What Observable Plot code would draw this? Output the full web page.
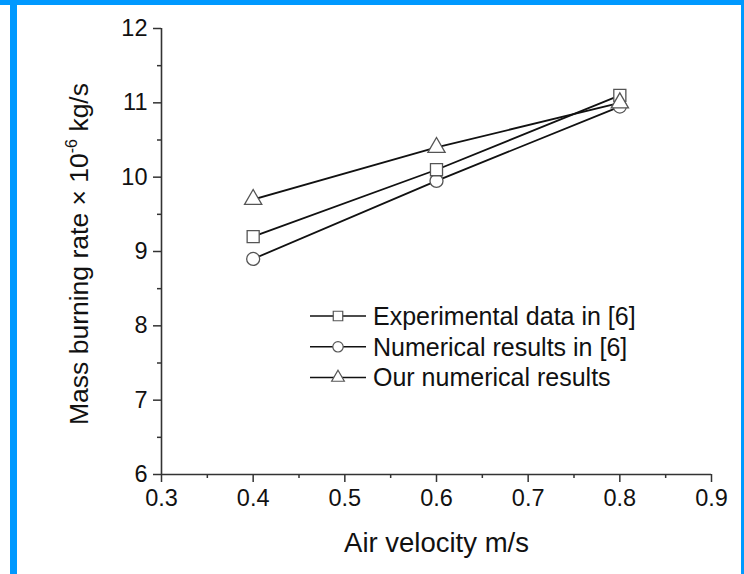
<!DOCTYPE html>
<html><head><meta charset="utf-8">
<script src="https://cdn.jsdelivr.net/npm/d3@7"></script>
<script src="https://cdn.jsdelivr.net/npm/@observablehq/plot@0.6"></script>
<style>
body{margin:0;background:#fff;}
#wrap{position:relative;width:744px;height:574px;overflow:hidden;background:#fff;font-family:"Liberation Sans",Arial,sans-serif;}
#wrap svg{position:absolute;left:0;top:0;}
.band{position:absolute;background:#0099ff;}
</style></head><body>
<div id="wrap"></div>
<script>
// ---- data ----
const velocity = [0.4, 0.6, 0.8];
const experimental = [9.2, 10.1, 11.1];
const numerical = [8.9, 9.95, 10.95];
const ours = [9.7, 10.4, 11.0];
const seriesNames = ["Experimental data in [6]", "Numerical results in [6]", "Our numerical results"];
const xTicks = [0.3, 0.4, 0.5, 0.6, 0.7, 0.8, 0.9];
const xMinor = [0.35, 0.45, 0.55, 0.65, 0.75, 0.85];
const yTicks = [6, 7, 8, 9, 10, 11, 12];
const yMinor = [6.5, 7.5, 8.5, 9.5, 10.5, 11.5];
const xTitle = "Air velocity m/s";

const mk = (vals) => velocity.map((v, i) => ({x: v, y: vals[i]}));
const dExp = mk(experimental), dNum = mk(numerical), dOur = mk(ours);

const font = '"Liberation Sans", Arial, Helvetica, sans-serif';
const axisColor = "#333";
const markerStroke = "#555";
const tickFont = 23.5;

const plot = Plot.plot({
  width: 744, height: 574,
  marginLeft: 161, marginRight: 33, marginTop: 28, marginBottom: 100,
  style: {fontFamily: font, color: "#111", background: "transparent"},
  x: {domain: [0.3, 0.9], axis: null},
  y: {domain: [6, 12], axis: null},
  marks: [
    Plot.axisX(xTicks, {tickSize: 8, tickFormat: () => "", stroke: axisColor, strokeWidth: 1.5, label: null}),
    Plot.axisX(xMinor, {tickSize: 4, tickFormat: () => "", stroke: axisColor, strokeWidth: 1.5, label: null}),
    Plot.axisY(yTicks, {tickSize: 8, tickFormat: () => "", stroke: axisColor, strokeWidth: 1.5, label: null}),
    Plot.axisY(yMinor, {tickSize: 4, tickFormat: () => "", stroke: axisColor, strokeWidth: 1.5, label: null}),
    Plot.text(xTicks, {x: d => d, y: 6, text: d => d3.format(".1f")(d), dy: 24, lineAnchor: "middle",
      fontSize: tickFont, fill: "#111", fontFamily: font}),
    Plot.text(yTicks, {x: 0.3, y: d => d, text: d => String(d), dx: -14, textAnchor: "end",
      fontSize: tickFont, fill: "#111", fontFamily: font}),
    Plot.ruleX([0.3], {y1: 6, y2: 12, stroke: axisColor, strokeWidth: 1.6}),
    Plot.ruleY([6], {x1: 0.3, x2: 0.9, stroke: axisColor, strokeWidth: 1.6}),
    Plot.line(dExp, {x: "x", y: "y", stroke: "#111", strokeWidth: 1.8}),
    Plot.line(dNum, {x: "x", y: "y", stroke: "#111", strokeWidth: 1.8}),
    Plot.line(dOur, {x: "x", y: "y", stroke: "#111", strokeWidth: 1.8}),
    Plot.dot(dNum, {x: "x", y: "y", symbol: "circle", r: 6.5, fill: "white", stroke: markerStroke, strokeWidth: 1.3}),
    Plot.dot(dExp, {x: "x", y: "y", symbol: "square", r: 6.8, fill: "white", stroke: markerStroke, strokeWidth: 1.3}),
    Plot.dot(dOur, {x: "x", y: "y", symbol: "triangle", r: 6.4, fill: "white", stroke: markerStroke, strokeWidth: 1.3}),
    Plot.text([xTitle], {frameAnchor: "bottom", dy: 77, fontSize: 27.5, fill: "#111", fontFamily: font})
  ]
});

const svg = d3.select(plot);

// y-axis title with superscript
const yt = svg.append("text")
  .attr("transform", "translate(88,254) rotate(-90)")
  .attr("text-anchor", "middle")
  .attr("font-family", font)
  .style("font-size", "26.5px")
  .attr("fill", "#111");
yt.append("tspan").text("Mass burning rate \u00d7 10");
yt.append("tspan").style("font-size", "16px").attr("dy", -11).text("-6");
yt.append("tspan").attr("dy", 11).text(" kg/s");

// legend
const legendSymbols = [d3.symbolSquare, d3.symbolCircle, d3.symbolTriangle];
const legendSizes = [90, 85, 70];
const lg = svg.append("g").attr("font-family", font).style("font-size", "25px")
  .attr("fill", "#111").attr("text-anchor", "start");
seriesNames.forEach((name, i) => {
  const y = 316 + i * 30.8;
  lg.append("line").attr("x1", 310).attr("x2", 366).attr("y1", y).attr("y2", y)
    .attr("stroke", "#111").attr("stroke-width", 1.5);
  lg.append("path").attr("d", d3.symbol(legendSymbols[i], legendSizes[i])())
    .attr("transform", `translate(338,${y})`)
    .attr("fill", "white").attr("stroke", markerStroke).attr("stroke-width", 1.2);
  lg.append("text").attr("x", 373).attr("y", y).attr("dy", "0.35em")
    .attr("text-anchor", "start").text(name);
});

const wrap = document.getElementById("wrap");
wrap.appendChild(plot);
[["0px","0px","744px","5px"],["10px","0px","7px","574px"],["741px","0px","3px","574px"]].forEach(([l,t,w,h]) => {
  const b = document.createElement("div");
  b.className = "band";
  Object.assign(b.style, {left: l, top: t, width: w, height: h});
  wrap.appendChild(b);
});
</script>
</body></html>
